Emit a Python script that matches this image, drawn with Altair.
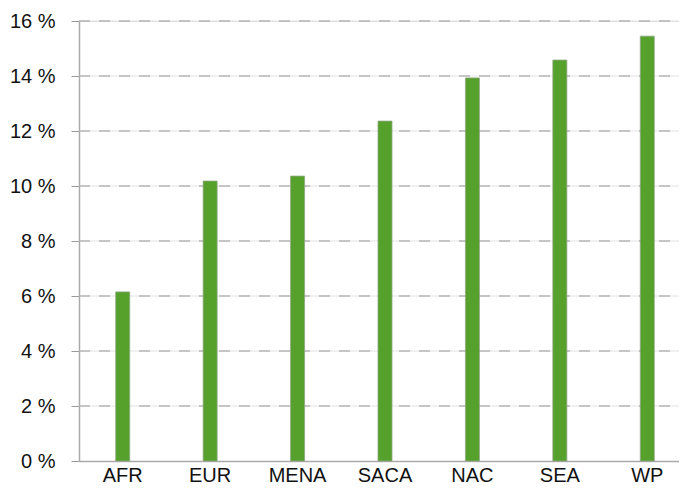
import altair as alt
import pandas as pd

regions = ["AFR", "EUR", "MENA", "SACA", "NAC", "SEA", "WP"]
values = [6.15, 10.18, 10.36, 12.36, 13.93, 14.58, 15.45]
y_ticks = [0, 2, 4, 6, 8, 10, 12, 14, 16]

df = pd.DataFrame({"region": regions, "value": values})
grid_df = pd.DataFrame({"t": y_ticks[1:]})

FONT = "Liberation Sans"

yscale = alt.Scale(domain=[0, 16], nice=False)

light_grid = alt.Chart(grid_df).mark_rule(color="#e2e2e2", strokeWidth=1).encode(
    y=alt.Y("t:Q", scale=yscale),
    x=alt.value(0),
    x2=alt.value(608),
)

dash_grid = alt.Chart(grid_df).mark_rule(
    color="#999999", strokeWidth=1, strokeDash=[11, 9]
).encode(
    y=alt.Y("t:Q", scale=yscale),
    x=alt.value(0),
    x2=alt.value(608),
)

bars = alt.Chart(df).mark_bar(
    size=14, color="#55a12b", stroke="#8fa584", strokeWidth=0.8
).encode(
    x=alt.X(
        "region:N",
        sort=regions,
        title=None,
        scale=alt.Scale(paddingInner=0.84, paddingOuter=0.42, range=[0, 612]),
        axis=alt.Axis(
            labelAngle=0,
            labelFont=FONT,
            labelFontSize=20,
            labelColor="#111111",
            labelBaseline="alphabetic",
            labelPadding=20,
            ticks=False,
            domainColor="#aaaaaa",
            domainWidth=1.5,
            grid=False,
        ),
    ),
    y=alt.Y(
        "value:Q",
        scale=yscale,
        title=None,
        axis=alt.Axis(
            values=y_ticks,
            labelExpr="datum.value + ' %'",
            labelFont=FONT,
            labelFontSize=20,
            labelColor="#111111",
            labelPadding=16,
            tickSize=8,
            tickColor="#999999",
            domainColor="#aaaaaa",
            domainWidth=1.5,
            grid=False,
        ),
    ),
)

chart = alt.layer(light_grid, dash_grid, bars).properties(
    width=600,
    height=440,
    autosize=alt.AutoSizeParams(type="none"),
    padding={"left": 71, "top": 13, "right": 0, "bottom": 25},
).configure_view(stroke=None).configure(background="white")

chart.save("out.html", embed_options={"renderer": "svg", "actions": False})
